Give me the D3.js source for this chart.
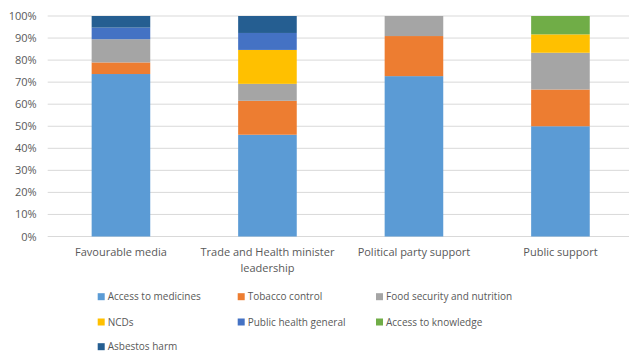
<!DOCTYPE html>
<html><head><meta charset="utf-8">
<script src="https://cdn.jsdelivr.net/npm/d3@7/dist/d3.min.js"></script>
<style>body{margin:0;background:#fff}svg{display:block}text{font-family:"Open Sans",sans-serif;fill:#595959}</style>
</head><body>
<script>
const categories = ["Favourable media", "Trade and Health minister leadership", "Political party support", "Public support"];
const series = ["Access to medicines","Tobacco control","Food security and nutrition","NCDs","Public health general","Access to knowledge","Asbestos harm"];
// counts per category (shown as share of total)
const accessMedicines = [14, 6, 8, 6];
const tobaccoControl  = [1, 2, 2, 2];
const foodSecurity    = [2, 1, 1, 2];
const ncds            = [0, 2, 0, 1];
const publicHealth    = [1, 1, 0, 0];
const accessKnowledge = [0, 0, 0, 1];
const asbestosHarm    = [1, 1, 0, 0];
const yTicks = [0,0.1,0.2,0.3,0.4,0.5,0.6,0.7,0.8,0.9,1];
const colors = ["#5B9BD5","#ED7D31","#A5A5A5","#FFC000","#4472C4","#70AD47","#255E91"];

const vals = [accessMedicines,tobaccoControl,foodSecurity,ncds,publicHealth,accessKnowledge,asbestosHarm];
const rows = categories.map((c,i)=>{
  const o={cat:c}; let tot=0;
  series.forEach((s,j)=>{tot+=vals[j][i];});
  series.forEach((s,j)=>{o[s]=vals[j][i]/tot;});
  return o;
});

const W=629,H=354;
const svg=d3.select("body").append("svg").attr("width",W).attr("height",H);
const x=d3.scaleBand().domain(categories).range([47.7,633.7]).paddingInner(0.6).paddingOuter(0.3);
const y=d3.scaleLinear().domain([0,1]).range([236.5,16]);

svg.append("g").selectAll("line").data(yTicks).join("line")
  .attr("x1",47.7).attr("x2",W).attr("y1",d=>y(d)).attr("y2",d=>y(d))
  .attr("stroke","#D9D9D9").attr("stroke-width",1);

const yAxis=svg.append("g").attr("transform","translate(47.7,0)")
  .call(d3.axisLeft(y).tickValues(yTicks).tickFormat(d3.format(".0%")).tickSize(0).tickPadding(11));
yAxis.select(".domain").remove();
yAxis.selectAll("text").style("font-family",'"Open Sans",sans-serif').style("font-size","11px").attr("fill","#595959");

const stack=d3.stack().keys(series)(rows);
svg.append("g").selectAll("g").data(stack).join("g").attr("fill",(d,i)=>colors[i])
  .selectAll("rect").data(d=>d).join("rect")
  .attr("x",d=>x(d.data.cat)).attr("width",x.bandwidth())
  .attr("y",d=>y(d[1])).attr("height",d=>y(d[0])-y(d[1]));

const xAxis=svg.append("g").attr("transform","translate(0,236.5)")
  .call(d3.axisBottom(x).tickSize(0).tickPadding(12));
xAxis.select(".domain").remove();
xAxis.selectAll("text").style("font-family",'"Open Sans",sans-serif').style("font-size","11px").attr("fill","#595959")
  .each(function(d){
    const t=d3.select(this);
    if(d==="Trade and Health minister leadership"){
      t.text(null);
      t.append("tspan").attr("x",0).attr("dy","0.71em").text("Trade and Health minister");
      t.append("tspan").attr("x",0).attr("dy","1.4em").text("leadership");
      t.attr("dy",null);
    }
  });

const legX=[97.7,237.7,376], legY=[296.7,322,346.7];
const leg=svg.append("g").selectAll("g").data(series).join("g")
  .attr("transform",(d,i)=>`translate(${legX[i%3]},${legY[Math.floor(i/3)]})`);
leg.append("rect").attr("x",0).attr("y",-3.5).attr("width",7).attr("height",7).attr("fill",(d,i)=>colors[i]);
leg.append("text").attr("x",10).attr("y",0).attr("dy","0.35em").style("font-size","10px").text(d=>d);
</script>
</body></html>
